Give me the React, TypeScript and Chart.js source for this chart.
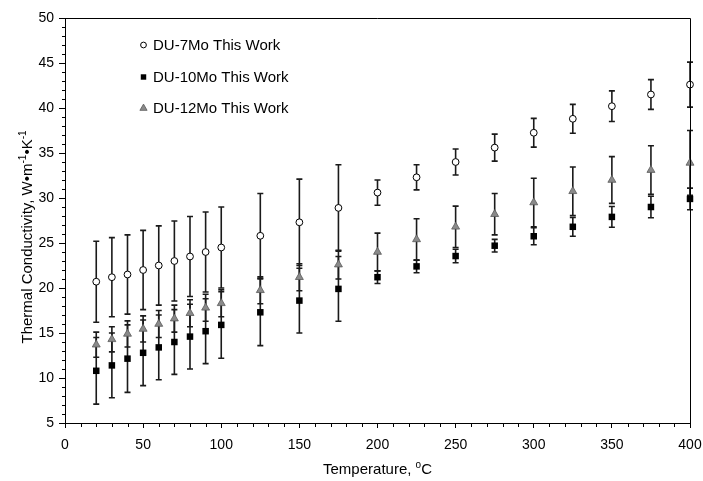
import React, { useEffect, useRef } from "react";
import { Chart, registerables } from "chart.js";

Chart.register(...registerables);

const temps = [20, 30, 40, 50, 60, 70, 80, 90, 100, 125, 150, 175, 200, 225, 250, 275, 300, 325, 350, 375, 400];
const k7 = [20.7, 21.2, 21.5, 22.0, 22.5, 23.0, 23.5, 24.0, 24.5, 25.8, 27.3, 28.9, 30.6, 32.3, 34.0, 35.6, 37.25, 38.8, 40.2, 41.5, 42.6];
const k7Err = [4.5, 4.4, 4.4, 4.4, 4.4, 4.45, 4.45, 4.45, 4.5, 4.7, 4.8, 4.8, 1.4, 1.4, 1.45, 1.5, 1.6, 1.6, 1.7, 1.65, 2.5];
const k10 = [10.8, 11.4, 12.15, 12.8, 13.4, 14.0, 14.6, 15.2, 15.9, 17.3, 18.6, 19.9, 21.2, 22.4, 23.55, 24.7, 25.75, 26.8, 27.9, 29.0, 29.9];
const k10Err = [3.7, 3.6, 3.75, 3.65, 3.6, 3.6, 3.6, 3.6, 3.7, 3.7, 3.6, 3.6, 0.7, 0.7, 0.75, 0.7, 0.95, 1.05, 1.15, 1.2, 1.2];
const k12 = [13.7, 14.3, 14.9, 15.45, 16.0, 16.6, 17.2, 17.8, 18.3, 19.75, 21.2, 22.6, 24.0, 25.4, 26.8, 28.2, 29.5, 30.75, 32.0, 33.1, 33.9];
const k12Err = [1.4, 1.4, 1.45, 1.45, 1.5, 1.5, 1.5, 1.5, 1.5, 1.5, 1.5, 1.6, 2.1, 2.3, 2.3, 2.3, 2.7, 2.7, 2.6, 2.7, 3.6];

const seriesNames = ["DU-7Mo This Work", "DU-10Mo This Work", "DU-12Mo This Work"];
const seriesValues = [k7, k10, k12];
const seriesErrors = [k7Err, k10Err, k12Err];

const xMin = 0, xMax = 400, xStep = 50, xMinor = 10;
const yMin = 5, yMax = 50, yStep = 5, yMinor = 1;

const FONT = "'Liberation Sans', Arial, sans-serif";

function drawMarker(ctx: CanvasRenderingContext2D, kind: number, x: number, y: number, s: number) {
  ctx.save();
  ctx.beginPath();
  if (kind === 0) {
    ctx.arc(x, y, 3.2 * s, 0, Math.PI * 2);
    ctx.fillStyle = "#ffffff";
    ctx.fill();
    ctx.lineWidth = 1;
    ctx.strokeStyle = "#000000";
    ctx.stroke();
  } else if (kind === 1) {
    const h = 3.2 * s;
    ctx.rect(x - h, y - h, 2 * h, 2 * h);
    ctx.fillStyle = "#000000";
    ctx.fill();
  } else {
    const r = 4.6 * s;
    ctx.moveTo(x, y - r);
    ctx.lineTo(x + r * 0.92, y + r * 0.6);
    ctx.lineTo(x - r * 0.92, y + r * 0.6);
    ctx.closePath();
    ctx.fillStyle = "#8a8a8a";
    ctx.fill();
    ctx.lineWidth = 0.8;
    ctx.strokeStyle = "#5a5a5a";
    ctx.stroke();
  }
  ctx.restore();
}

const decoPlugin = {
  id: "deco",
  beforeDatasetsDraw(chart: any) {
    const ctx = chart.ctx as CanvasRenderingContext2D;
    const xs = chart.scales.x;
    const ys = chart.scales.y;
    ctx.save();
    ctx.strokeStyle = "#1a1a1a";
    ctx.lineWidth = 1.6;
    seriesValues.forEach((vals, si) => {
      const errs = seriesErrors[si];
      vals.forEach((v, i) => {
        const px = xs.getPixelForValue(temps[i]);
        const top = ys.getPixelForValue(v + errs[i]);
        const bot = ys.getPixelForValue(v - errs[i]);
        ctx.beginPath();
        ctx.moveTo(px, top);
        ctx.lineTo(px, bot);
        ctx.moveTo(px - 3, top);
        ctx.lineTo(px + 3, top);
        ctx.moveTo(px - 3, bot);
        ctx.lineTo(px + 3, bot);
        ctx.stroke();
      });
    });
    ctx.restore();
  },
  afterDraw(chart: any) {
    const ctx = chart.ctx as CanvasRenderingContext2D;
    const a = chart.chartArea;
    const xs = chart.scales.x;
    const ys = chart.scales.y;
    ctx.save();
    // frame
    ctx.strokeStyle = "#000000";
    ctx.lineWidth = 1;
    ctx.beginPath();
    ctx.moveTo(a.left, a.top + 0.5);
    ctx.lineTo(a.right + 0.5, a.top + 0.5);
    ctx.lineTo(a.right + 0.5, a.bottom);
    ctx.stroke();
    // minor ticks
    ctx.beginPath();
    for (let v = xMin; v <= xMax; v += xMinor) {
      if (v % xStep === 0) continue;
      const px = Math.round(xs.getPixelForValue(v)) + 0.5;
      ctx.moveTo(px, a.bottom);
      ctx.lineTo(px, a.bottom + 4);
    }
    for (let v = yMin; v <= yMax; v += yMinor) {
      if (v % yStep === 0) continue;
      const py = Math.round(ys.getPixelForValue(v)) + 0.5;
      ctx.moveTo(a.left, py);
      ctx.lineTo(a.left - 3, py);
    }
    ctx.stroke();

    // x title
    ctx.fillStyle = "#000000";
    ctx.textBaseline = "alphabetic";
    ctx.font = `15px ${FONT}`;
    const t1 = "Temperature, ";
    const supFont = `10px ${FONT}`;
    const w1 = ctx.measureText(t1).width;
    ctx.font = supFont;
    const wo = ctx.measureText("o").width;
    ctx.font = `15px ${FONT}`;
    const wc = ctx.measureText("C").width;
    const total = w1 + wo + wc;
    let sx = (a.left + a.right) / 2 - total / 2;
    const by = 474;
    ctx.textAlign = "left";
    ctx.fillText(t1, sx, by);
    sx += w1;
    ctx.font = supFont;
    ctx.fillText("o", sx, by - 6);
    sx += wo;
    ctx.font = `15px ${FONT}`;
    ctx.fillText("C", sx, by);

    // y title
    ctx.save();
    ctx.translate(31.5, 237);
    ctx.rotate(-Math.PI / 2);
    const parts: [string, boolean][] = [
      ["Thermal Conductivity, W\u2022m", false],
      ["-1", true],
      ["\u2022K", false],
      ["-1", true],
    ];
    let tw = 0;
    const widths = parts.map(([s, sup]) => {
      ctx.font = sup ? supFont : `15px ${FONT}`;
      const w = ctx.measureText(s).width;
      tw += w;
      return w;
    });
    let cx = -tw / 2;
    parts.forEach(([s, sup], i) => {
      ctx.font = sup ? supFont : `15px ${FONT}`;
      ctx.fillText(s, cx, sup ? -6 : 0);
      cx += widths[i];
    });
    ctx.restore();

    // legend
    const rows = [45, 77, 108];
    ctx.font = `15px ${FONT}`;
    ctx.textBaseline = "middle";
    ctx.textAlign = "left";
    seriesNames.forEach((name, i) => {
      drawMarker(ctx, i, 143.5, rows[i], i === 0 ? 0.9 : 0.85);
      ctx.fillStyle = "#000000";
      ctx.fillText(name, 153, rows[i] + 0.5);
    });
    ctx.restore();
  },
};

const markerStyles = [
  { pointStyle: "circle", pointRadius: 3.4, backgroundColor: "#ffffff", borderColor: "#000000", borderWidth: 1 },
  { pointStyle: "rect", pointRadius: 4.6, backgroundColor: "#000000", borderColor: "#000000", borderWidth: 0 },
  { pointStyle: "triangle", pointRadius: 4.6, backgroundColor: "#8a8a8a", borderColor: "#5a5a5a", borderWidth: 0.8 },
];

export default function App() {
  const ref = useRef<HTMLCanvasElement | null>(null);
  useEffect(() => {
    if (!ref.current) return;
    const chart = new Chart(ref.current, {
      type: "scatter",
      data: {
        datasets: seriesValues.map((vals, si) => ({
          label: seriesNames[si],
          data: vals.map((v, i) => ({ x: temps[i], y: v })),
          showLine: false,
          clip: false as any,
          ...markerStyles[si],
        })) as any,
      },
      plugins: [decoPlugin],
      options: {
        responsive: false,
        animation: false,
        devicePixelRatio: 1,
        layout: { padding: { top: 18, right: 13, left: 0, bottom: 0 } },
        plugins: { legend: { display: false }, tooltip: { enabled: false } },
        scales: {
          x: {
            type: "linear",
            min: xMin,
            max: xMax,
            afterFit: (s: any) => { s.height = 58; s.paddingLeft = 0; s.paddingRight = 0; },
            ticks: { stepSize: xStep, color: "#000000", font: { family: FONT, size: 14 }, padding: 9, maxRotation: 0 },
            grid: { drawOnChartArea: false, drawTicks: true, tickLength: 5, color: "#000000", lineWidth: 1 },
            border: { display: true, color: "#000000", width: 1 },
          },
          y: {
            type: "linear",
            min: yMin,
            max: yMax,
            afterFit: (s: any) => { s.width = 65; s.paddingTop = 0; s.paddingBottom = 0; },
            ticks: { stepSize: yStep, color: "#000000", font: { family: FONT, size: 14 }, padding: 5 },
            grid: { drawOnChartArea: false, drawTicks: true, tickLength: 6, color: "#000000", lineWidth: 1 },
            border: { display: true, color: "#000000", width: 1 },
          },
        },
      },
    });
    return () => chart.destroy();
  }, []);
  return (
    <div style={{ position: "absolute", left: 0, top: 0, width: 703, height: 481, background: "#ffffff" }}>
      <canvas ref={ref} width={703} height={481} style={{ display: "block", width: 703, height: 481 }} />
    </div>
  );
}
